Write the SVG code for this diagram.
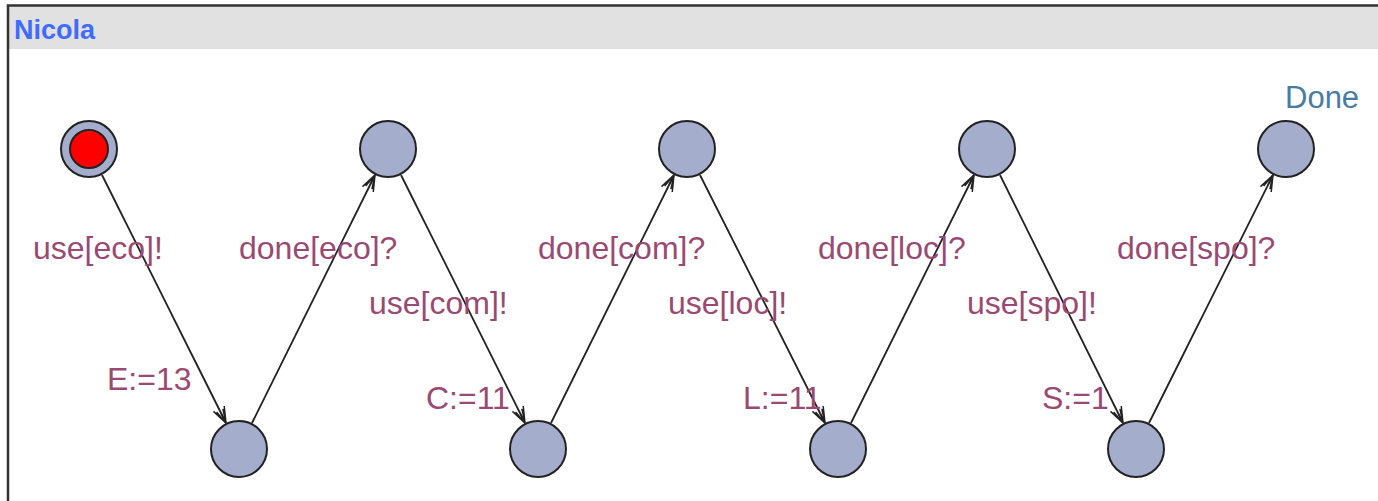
<svg xmlns="http://www.w3.org/2000/svg" width="1378" height="501" viewBox="0 0 1378 501">
  <style>
    .loc { fill: #a4adcb; stroke: #222; stroke-width: 2; }
    .edge { stroke: #222; stroke-width: 1.8; fill: none; marker-end: url(#arrow); }
    .lbl { font-family: "Liberation Sans", Arial, sans-serif; font-size: 32px; fill: #9a4a72; }
    .name { font-family: "Liberation Sans", Arial, sans-serif; font-size: 31px; fill: #4a7ca2; }
  </style>
  <defs>
    <marker id="arrow" markerUnits="userSpaceOnUse" markerWidth="20" markerHeight="16" refX="17" refY="7" orient="auto">
      <path d="M1,1 L17,7 L1,13 M3,3.5 L17,7 L3,10.5 M6,7 L17,7" fill="none" stroke="#222" stroke-width="1.5"/>
    </marker>
  </defs>

  <rect x="0" y="0" width="1378" height="501" fill="#fff"/>
  <!-- template frame and title bar -->
  <rect x="8" y="6" width="1372" height="43" fill="#e1e1e1"/>
  <path d="M8,501 V5.5 H1378" fill="none" stroke="#333" stroke-width="2.5"/>
  <text x="14" y="39" font-family="Liberation Sans, Arial, sans-serif" font-size="27" font-weight="bold" fill="#3f6bff">Nicola</text>

  <!-- transitions -->
  <g id="edges">
    <line class="edge" x1="102" y1="175" x2="226" y2="423"/>
    <line class="edge" x1="252" y1="423" x2="375" y2="175"/>
    <line class="edge" x1="401" y1="175" x2="525" y2="423"/>
    <line class="edge" x1="551" y1="423" x2="674" y2="175"/>
    <line class="edge" x1="700" y1="175" x2="825" y2="423"/>
    <line class="edge" x1="851" y1="423" x2="974" y2="175"/>
    <line class="edge" x1="1000" y1="175" x2="1123" y2="423"/>
    <line class="edge" x1="1149" y1="423" x2="1273" y2="175"/>
  </g>

  <!-- locations -->
  <g id="n0">
    <circle class="loc" cx="89" cy="149" r="28"/>
    <circle cx="89" cy="149" r="19" fill="#ff0000" stroke="#222" stroke-width="2"/>
  </g>
  <g id="n1"><circle class="loc" cx="239" cy="449" r="28"/></g>
  <g id="n2"><circle class="loc" cx="388" cy="149" r="28"/></g>
  <g id="n3"><circle class="loc" cx="538" cy="449" r="28"/></g>
  <g id="n4"><circle class="loc" cx="687" cy="149" r="28"/></g>
  <g id="n5"><circle class="loc" cx="838" cy="449" r="28"/></g>
  <g id="n6"><circle class="loc" cx="987" cy="149" r="28"/></g>
  <g id="n7"><circle class="loc" cx="1136" cy="449" r="28"/></g>
  <g id="n8">
    <circle class="loc" cx="1286" cy="149" r="28"/>
    <text class="name" x="1285" y="108">Done</text>
  </g>

  <!-- synchronisations and updates -->
  <g id="labels">
    <text class="lbl" x="33" y="259">use[eco]!</text>
    <text class="lbl" x="107" y="390">E:=13</text>
    <text class="lbl" x="239" y="259">done[eco]?</text>
    <text class="lbl" x="369" y="314">use[com]!</text>
    <text class="lbl" x="426" y="409">C:=11</text>
    <text class="lbl" x="538" y="259">done[com]?</text>
    <text class="lbl" x="668" y="314">use[loc]!</text>
    <text class="lbl" x="743" y="409">L:=11</text>
    <text class="lbl" x="818" y="259">done[loc]?</text>
    <text class="lbl" x="967" y="314">use[spo]!</text>
    <text class="lbl" x="1042" y="409">S:=1</text>
    <text class="lbl" x="1117" y="259">done[spo]?</text>
  </g>
</svg>
